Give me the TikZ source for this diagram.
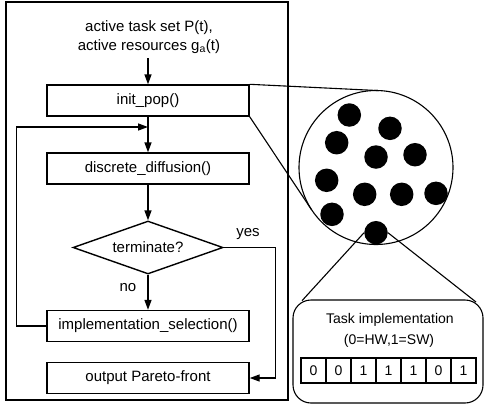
\documentclass[tikz,border=0pt]{standalone}
\usepackage{fontspec}
\setmainfont{Liberation Sans}
\usetikzlibrary{shapes.geometric,arrows.meta}
\begin{document}
\begin{tikzpicture}[x=1pt,y=-1pt,
  box/.style={draw,line width=1.4pt,minimum width=202pt,minimum height=31pt,inner sep=0pt,font=\fontsize{15}{17}\selectfont},
  decision/.style={draw,diamond,line width=1.4pt,aspect=2.8,minimum width=150pt,minimum height=53pt,inner sep=0pt,font=\fontsize{15}{17}\selectfont},
  lbl/.style={inner sep=0pt,font=\fontsize{15}{17}\selectfont},
  arr/.style={-{Triangle[length=10pt,width=7pt]},line width=1.4pt},
  thin/.style={line width=1.1pt},
  dotn/.style={circle,fill=black,minimum size=23.5pt,inner sep=0pt},
  cell/.style={draw,line width=1.1pt,minimum width=25pt,minimum height=25pt,inner sep=0pt,font=\fontsize{14}{16}\selectfont}]
\useasboundingbox (0,0) rectangle (484,408);
% outer frame
\draw[line width=1.4pt] (6,2) rectangle (288,400);
% input text
\node[lbl,align=center] (inp) at (149,37) {active task set P(t),\\[2pt] active resources g\textsubscript{a}(t)};
\coordinate (start) at (148,58);
% flow boxes
\node[box] (init) at (148,100.5) {init\_pop()};
\node[box] (diff) at (148,168.5) {discrete\_diffusion()};
\node[decision] (term) at (148,247.5) {terminate?};
\node[box] (impl) at (148,326) {implementation\_selection()};
\node[box] (out) at (148,378) {output Pareto-front};
\coordinate (merge) at (148,127);
% arrows
\draw[arr] (start) -- (init.north);
\draw[arr] (init.south) -- (diff.north);
\draw[arr] (diff.south) -- (term.north);
\draw[arr] (term.south) -- (impl.north);
\draw[arr] (impl.west) -- ++(-30,0) |- (merge);
\draw[arr] (term.east) -- ++(52,0) |- (out.east);
\node[lbl] (yes) at (248,234) {yes};
\node[lbl] (no) at (128,288) {no};
% population circle
\node[circle,draw,thin,minimum size=154pt,inner sep=0pt] (pop) at (376,167.5) {};
\coordinate (tA) at (379,90.6);
\coordinate (tB) at (311.6,209.8);
\draw[thin] (init.north east) -- (tA);
\draw[thin] (init.south east) -- (tB);
\node[dotn] (d1) at (349.3,115) {};
\node[dotn] (d2) at (390,128.3) {};
\node[dotn] (d3) at (336.7,142.7) {};
\node[dotn] (d4) at (376,157) {};
\node[dotn] (d5) at (415,154.7) {};
\node[dotn] (d6) at (326.7,180.3) {};
\node[dotn] (d7) at (364.7,194.3) {};
\node[dotn] (d8) at (401.7,194.3) {};
\node[dotn] (d9) at (436,193.3) {};
\node[dotn] (d10) at (332,214.3) {};
\node[dotn] (d11) at (376,232.7) {};
% task implementation
\node[draw,thin,rounded corners=18pt,minimum width=190pt,minimum height=103pt,inner sep=0pt] (task) at (388,351.5) {};
\node[lbl,font=\fontsize{14}{16}\selectfont] (tt1) at (390,320) {Task implementation};
\node[lbl,font=\fontsize{14}{16}\selectfont] (tt2) at (389,341) {(0=HW,1=SW)};
\coordinate (bL) at (302,300.7);
\coordinate (bR) at (476,302);
\draw[thin] (d11.west) -- (bL);
\draw[thin] (d11.east) -- (bR);
\foreach \v [count=\i] in {0,0,1,1,1,0,1}
  \node[cell] (c\i) at (288.5+25*\i,370.5) {\v};
\end{tikzpicture}
\end{document}
